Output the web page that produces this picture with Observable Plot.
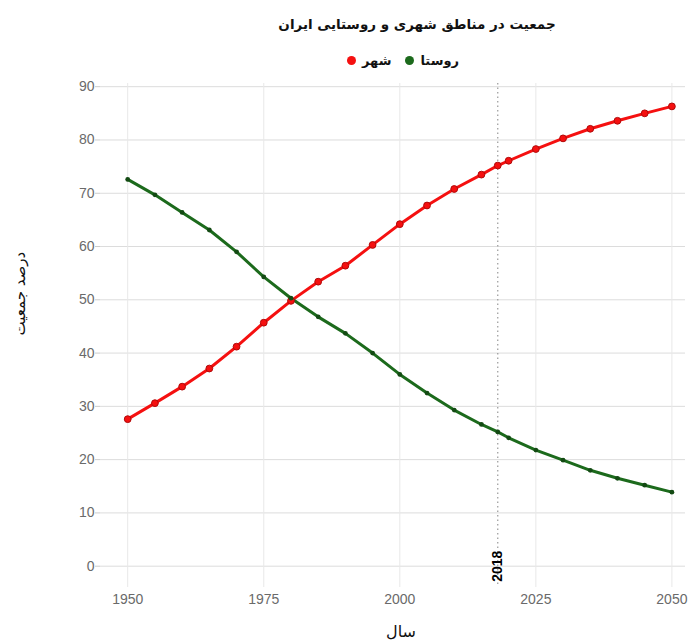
<!DOCTYPE html>
<html>
<head>
<meta charset="utf-8">
<script src="https://cdn.jsdelivr.net/npm/d3@7"></script>
<script src="https://cdn.jsdelivr.net/npm/@observablehq/plot@0.6"></script>
<style>
  body { margin: 0; background: #fff; width: 690px; }
  #head { position: relative; width: 690px; height: 75px; font-family: "DejaVu Sans", sans-serif; }
  #title { position: absolute; left: 144px; right: 0; top: 16px; text-align: center; font-weight: bold; font-size: 13.5px; color: #111; direction: rtl; }
  #legend { position: absolute; left: 116px; right: 0; top: 53px; display: flex; justify-content: center; gap: 14px; font-weight: bold; font-size: 13px; color: #111; }
  .item { display: flex; align-items: center; gap: 6px; }
  .sw { width: 9px; height: 9px; border-radius: 50%; display: inline-block; }
  #chart svg { display: block; }
</style>
</head>
<body>
<div id="head">
  <div id="title"></div>
  <div id="legend"></div>
</div>
<div id="chart"></div>
<script>
const titleText = "جمعیت در مناطق شهری و روستایی ایران";
const seriesNames = ["شهر", "روستا"];
const seriesColors = ["#f51010", "#1c6a1c"];
const dotStrokes = ["#b00a0a", "#134a13"];
const yLabel = "درصد جمعیت";
const xLabel = "سال";
const markYear = 2018;

const years = [1950, 1955, 1960, 1965, 1970, 1975, 1980, 1985, 1990, 1995, 2000, 2005, 2010, 2015, 2018, 2020, 2025, 2030, 2035, 2040, 2045, 2050];
const urban = [27.6, 30.6, 33.7, 37.1, 41.2, 45.7, 49.8, 53.4, 56.4, 60.3, 64.2, 67.7, 70.8, 73.5, 75.2, 76.1, 78.3, 80.3, 82.1, 83.6, 85.0, 86.3];
const rural = [72.6, 69.7, 66.4, 63.1, 59.0, 54.3, 50.3, 46.8, 43.7, 40.0, 36.0, 32.5, 29.3, 26.6, 25.2, 24.1, 21.8, 19.9, 18.0, 16.5, 15.2, 13.9];

const xTicks = [1950, 1975, 2000, 2025, 2050];
const yTicks = [0, 10, 20, 30, 40, 50, 60, 70, 80, 90];

document.getElementById("title").textContent = titleText;
const leg = document.getElementById("legend");
seriesNames.forEach((n, i) => {
  const it = document.createElement("span");
  it.className = "item";
  const sw = document.createElement("span");
  sw.className = "sw";
  sw.style.background = seriesColors[i];
  const t = document.createElement("span");
  t.textContent = n;
  it.appendChild(sw); it.appendChild(t);
  leg.appendChild(it);
});

const data = years.flatMap((yr, i) => [
  {year: yr, value: urban[i], s: seriesNames[0]},
  {year: yr, value: rural[i], s: seriesNames[1]}
]);

const chart = Plot.plot({
  width: 690,
  height: 566,
  marginLeft: 100,
  marginRight: 5,
  marginTop: 8,
  marginBottom: 54,
  x: {domain: [1945, 2052.5]},
  y: {domain: [-4, 90.6]},
  color: {domain: seriesNames, range: seriesColors},
  style: {fontFamily: "'Liberation Sans', Arial, sans-serif", fontSize: "14px", color: "#666", background: "#fff"},
  marks: [
    Plot.gridY(yTicks, {stroke: "#dcdcdc", strokeOpacity: 1}),
    Plot.gridX(xTicks, {stroke: "#e8e8e8", strokeOpacity: 1}),
    Plot.ruleX([markYear], {stroke: "#999", strokeDasharray: "1.5,3", strokeWidth: 1.2}),
    Plot.axisY(yTicks, {tickSize: 5, tickPadding: 1, stroke: "#ccc", fill: "#6a6a6a", label: null, fontSize: 14}),
    Plot.axisX(xTicks, {tickSize: 0, tickPadding: 7, tickFormat: d => String(d), fill: "#6a6a6a", label: null, fontSize: 14}),
    Plot.text([yLabel], {frameAnchor: "left", dx: -80, rotate: -90, fill: "#111", fontSize: 15, fontFamily: "'DejaVu Sans', sans-serif"}),
    Plot.text([xLabel], {frameAnchor: "bottom", dx: 8, dy: 49, fill: "#111", fontSize: 16, fontFamily: "'DejaVu Sans', sans-serif"}),
    Plot.line(data, {x: "year", y: "value", z: "s", stroke: "s", strokeWidth: 3}),
    Plot.dot(data.filter(d => d.s === seriesNames[0]), {x: "year", y: "value", fill: seriesColors[0], stroke: dotStrokes[0], strokeWidth: 1, r: 3.4}),
    Plot.dot(data.filter(d => d.s === seriesNames[1]), {x: "year", y: "value", fill: dotStrokes[1], r: 2.4}),
    Plot.text([markYear], {x: d => d, y: () => 0, text: d => String(d), rotate: -90, fill: "#000", fontWeight: "bold", fontSize: 14})
  ]
});
document.getElementById("chart").appendChild(chart);
</script>
</body>
</html>
